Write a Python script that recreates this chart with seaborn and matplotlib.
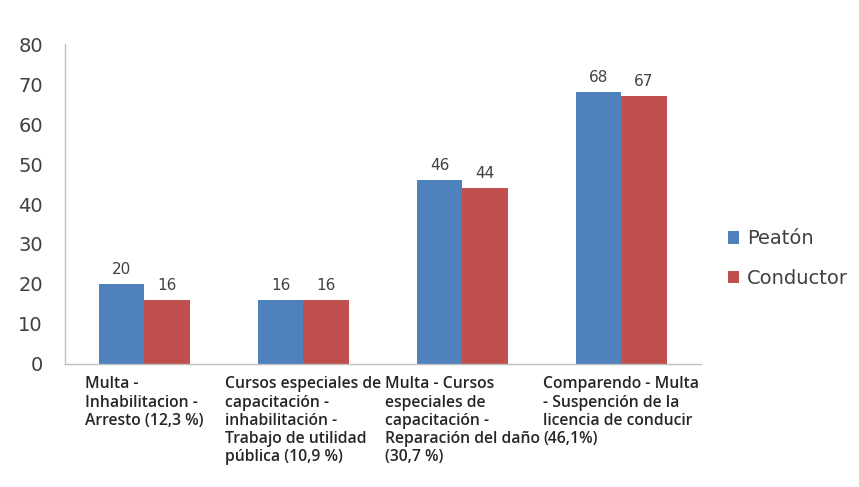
import matplotlib
matplotlib.use("Agg")
import matplotlib.pyplot as plt
import seaborn as sns
import pandas as pd

categorias = [
    "Multa -\nInhabilitacion -\nArresto (12,3 %)",
    "Cursos especiales de\ncapacitación -\ninhabilitación -\nTrabajo de utilidad\npública (10,9 %)",
    "Multa - Cursos\nespeciales de\ncapacitación -\nReparación del daño\n(30,7 %)",
    "Comparendo - Multa\n- Suspención de la\nlicencia de conducir\n(46,1%)",
]
peaton = [20, 16, 46, 68]
conductor = [16, 16, 44, 67]
series = ["Peatón", "Conductor"]
colores = ["#4F81BD", "#C0504D"]
y_ticks = [0, 10, 20, 30, 40, 50, 60, 70, 80]

df = pd.DataFrame({
    "categoria": categorias * 2,
    "serie": [series[0]] * len(categorias) + [series[1]] * len(categorias),
    "valor": peaton + conductor,
})

sns.set_theme(style="white")
plt.rcParams["font.family"] = ["DejaVu Sans"]

fig = plt.figure(figsize=(8.59, 4.87), dpi=100)
ax = fig.add_axes([0.0757, 0.2526, 0.740, 0.657])

sns.barplot(data=df, x="categoria", y="valor", hue="serie", order=categorias,
            hue_order=series, palette=colores, width=0.57, saturation=1,
            edgecolor="none", ax=ax)

for cont in ax.containers:
    ax.bar_label(cont, labels=[f"{v:g}" for v in cont.datavalues], padding=5,
                 fontsize=11, color="#404040")

ax.set_xlim(-0.5, len(categorias) - 0.5)
ax.set_ylim(0, 80)
ax.set_yticks(y_ticks)
ax.set_yticklabels([str(t) for t in y_ticks], fontsize=14, color="#404040")
ax.set_xlabel("")
ax.set_ylabel("")
ax.tick_params(axis="y", length=0, pad=16)
ax.tick_params(axis="x", length=0, pad=9)
for lbl in ax.get_xticklabels():
    lbl.set_fontsize(11.3)
    lbl.set_fontfamily("Open Sans")
    lbl.set_fontweight("semibold")
    lbl.set_color("#262626")
    lbl.set_multialignment("left")
    lbl.set_verticalalignment("top")
    lbl.set_linespacing(1.17)

for side in ["top", "right"]:
    ax.spines[side].set_visible(False)
for side in ["left", "bottom"]:
    ax.spines[side].set_color("#BFBFBF")
    ax.spines[side].set_linewidth(1.0)

handles, labels = ax.get_legend_handles_labels()
ax.legend(handles, labels, loc="center left", bbox_to_anchor=(1.015, 0.33),
          frameon=False, fontsize=14, handlelength=0.6, handleheight=0.6,
          handletextpad=0.4, labelspacing=1.05, labelcolor="#404040")

fig.savefig("out.png", dpi=100)
